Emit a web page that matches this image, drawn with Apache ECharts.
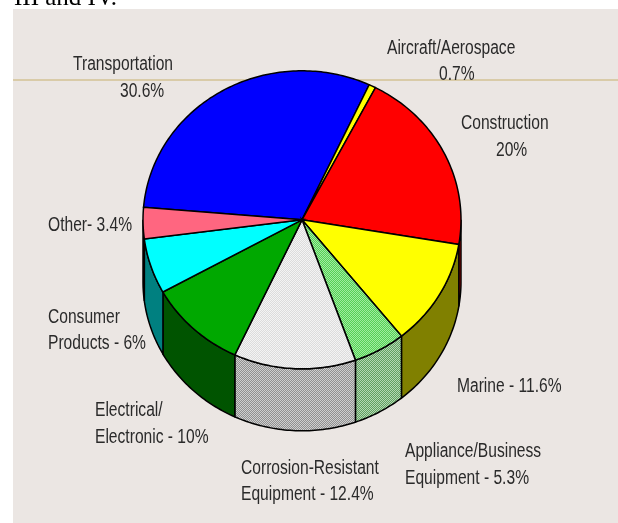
<!DOCTYPE html>
<html>
<head>
<meta charset="utf-8">
<style>
  html, body { margin: 0; padding: 0; background: #fff; }
  #main { width: 618px; height: 523px; }
</style>
<script src="https://cdn.jsdelivr.net/npm/echarts@6/dist/echarts.min.js"></script>
</head>
<body>
<div id="main"></div>
<script>
var categories = ['Transportation', 'Aircraft/Aerospace', 'Construction', 'Marine', 'Appliance/Business Equipment',
  'Corrosion-Resistant Equipment', 'Electrical/Electronic', 'Consumer Products', 'Other'];
var shares = [30.6, 0.7, 20, 11.6, 5.3, 12.4, 10, 6, 3.4];

var labelLines = [
  ['Transportation', '30.6%'],
  ['Aircraft/Aerospace', '0.7%'],
  ['Construction', '20%'],
  ['Marine - 11.6%'],
  ['Appliance/Business', 'Equipment - 5.3%'],
  ['Corrosion-Resistant', 'Equipment - 12.4%'],
  ['Electrical/', 'Electronic - 10%'],
  ['Consumer', 'Products - 6%'],
  ['Other- 3.4%']
];
var labelAt = [
  [[73, 64], [120, 91]],
  [[387, 48], [439, 74]],
  [[461, 123], [496, 150]],
  [[457, 386]],
  [[405, 451], [405, 478]],
  [[241, 468], [241, 494]],
  [[95, 410], [95, 437]],
  [[48, 317], [48, 343]],
  [[48, 225]]
];

// checker fill, the source chart dithers two of its slices
function dither(a, b) {
  var c = document.createElement('canvas');
  c.width = c.height = 2;
  var ctx = c.getContext('2d');
  ctx.fillStyle = a;
  ctx.fillRect(0, 0, 2, 2);
  ctx.fillStyle = b;
  ctx.fillRect(0, 0, 1, 1);
  ctx.fillRect(1, 1, 1, 1);
  return { image: c, repeat: 'repeat' };
}

var topColors = ['#0000ff', '#ffff00', '#ff0000', '#ffff00', dither('#55d055', '#a0eca0'),
  dither('#dcdcdc', '#f4f4f4'), '#00a800', '#00ffff', '#ff6680'];
var wallColors = ['#000080', '#808000', '#ff0000', '#808000', dither('#60a060', '#b4d8b4'),
  dither('#909090', '#cfcfcf'), '#005400', '#008080', '#ff6680'];

// pie geometry: squashed top ellipse, extruded downwards
var cx = 302, cy = 219.8, rx = 159, ry = 149, depth = 62;
var startDeg = -85.16; // clockwise from 12 o'clock

var total = shares.reduce(function (s, v) { return s + v; }, 0);
var sweep = [];
var acc = startDeg;
shares.forEach(function (v) {
  var next = acc + v / total * 360;
  sweep.push([acc, next]);
  acc = next;
});

function arc(from, to, dy) {
  var pts = [];
  for (var d = from; d < to; d += 1) pts.push(pointAt(d, dy));
  pts.push(pointAt(to, dy));
  return pts;
}
function pointAt(deg, dy) {
  var r = deg * Math.PI / 180;
  return [cx + rx * Math.sin(r), cy + dy - ry * Math.cos(r)];
}

function renderWall(params, api) {
  var s = sweep[params.dataIndex];
  var from = Math.max(s[0], 90), to = Math.min(s[1], 270);
  if (from >= to) return null;
  var pts = arc(from, to, 0).concat(arc(from, to, depth).reverse());
  return {
    type: 'polygon',
    shape: { points: pts },
    style: { fill: wallColors[params.dataIndex], stroke: '#000', lineWidth: 1.5 }
  };
}
function renderTop(params, api) {
  var s = sweep[params.dataIndex];
  var pts = [[cx, cy]].concat(arc(s[0], s[1], 0));
  return {
    type: 'polygon',
    shape: { points: pts },
    style: { fill: topColors[params.dataIndex], stroke: '#000', lineWidth: 1.5 }
  };
}

var graphics = [
  { type: 'rect', z: -10, shape: { x: 13, y: 9, width: 605, height: 514 }, style: { fill: '#ebe6e3' } },
  { type: 'rect', z: -9, shape: { x: 13, y: 79, width: 605, height: 2 }, style: { fill: '#d9cba8' } },
  { type: 'text', z: -8, x: 14, y: 11, style: {
    text: 'III and IV.', fontFamily: 'Liberation Serif', fontSize: 25, fill: '#000', verticalAlign: 'bottom' } }
];
labelLines.forEach(function (lines, i) {
  lines.forEach(function (line, j) {
    graphics.push({
      type: 'text', z: 10, x: labelAt[i][j][0], y: labelAt[i][j][1], scaleX: 0.78,
      style: { text: line, fontFamily: 'Liberation Sans', fontSize: 20, fill: '#2a2a2a', verticalAlign: 'middle' }
    });
  });
});

var data = shares.map(function (v, i) { return { name: categories[i], value: v }; });

var myChart = echarts.init(document.getElementById('main'));
var option = {
  animation: false,
  backgroundColor: '#fff',
  graphic: { elements: graphics },
  series: [
    { type: 'custom', coordinateSystem: 'none', renderItem: renderWall, data: data, z: 2, silent: true },
    { type: 'custom', coordinateSystem: 'none', renderItem: renderTop, data: data, z: 3, silent: true }
  ]
};
option && myChart.setOption(option);
</script>
</body>
</html>
